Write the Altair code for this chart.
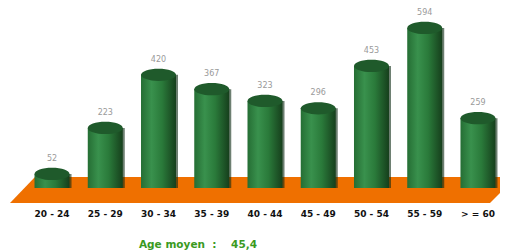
import altair as alt
import pandas as pd

categories = ["20 - 24", "25 - 29", "30 - 34", "35 - 39", "40 - 44",
              "45 - 49", "50 - 54", "55 - 59", "> = 60"]
values = [52, 223, 420, 367, 323, 296, 453, 594, 259]
mean_label = "Age moyen\u00a0\u00a0:\u00a0\u00a0\u00a0\u00a045,4"

df = pd.DataFrame({"cat": categories, "val": values})

W, H = 492, 195
BASE = 185  # pixel bottom of cylinders

x = alt.X("cat:N", sort=categories,
          scale=alt.Scale(range=[17.4, 496.6], paddingInner=0, paddingOuter=0),
          axis=alt.Axis(title=mean_label, labelAngle=0, domain=False, ticks=False,
                        tickSize=0, labelPadding=5, labelFont="DejaVu Sans",
                        labelFontWeight="bold", labelFontSize=9, labelColor="#111",
                        titleFont="DejaVu Sans", titleFontSize=10.5, titleFontWeight="bold",
                        titleColor="#3a9a1e", titleX=189.5, titleY=40,
                        titleBaseline="middle", titleAlign="center", grid=False))
y_scale = alt.Scale(domain=[-59.4, 664.5], nice=False, zero=False)
y = alt.Y("val:Q", scale=y_scale, axis=None)

base = alt.Chart(df)

floor = alt.Chart(pd.DataFrame({"k": [0]})).mark_point(
    shape="M-0.976,0.052 L-0.876,-0.052 L0.984,-0.052 L0.984,0.012 L0.944,0.052 Z",
    filled=True, opacity=1, color="#ef7000", size=250000, strokeWidth=0
).encode(x=alt.value(246), y=alt.value(181))

grad = alt.Gradient(
    gradient="linear", x1=0, x2=1, y1=0, y2=0,
    stops=[alt.GradientStop(color="#256e34", offset=0),
           alt.GradientStop(color="#39914d", offset=0.3),
           alt.GradientStop(color="#2a7a3a", offset=0.6),
           alt.GradientStop(color="#163f1c", offset=1)])

shadow = base.mark_bar(width=35, color="#0c2a12", opacity=0.6, xOffset=2).encode(
    x=x, y=y, y2=alt.value(BASE + 2))

body = base.mark_bar(width=35, color=grad).encode(
    x=x, y=y, y2=alt.value(BASE))

top = base.mark_point(
    shape="M-1,0 A1,0.35 0 1,1 1,0 A1,0.35 0 1,1 -1,0 Z",
    filled=True, opacity=1, color="#1f5a2b", size=1225, strokeWidth=0
).encode(x=x, y=y)

labels = base.mark_text(dy=-15, font="DejaVu Sans", fontSize=8, color="#9a9a9a").encode(
    x=x, y=y, text=alt.Text("val:Q"))

chart = alt.layer(floor, shadow, body, top, labels).properties(
    width=W, height=H, padding=0
).configure_view(stroke=None)

chart.save("out.html", embed_options={"renderer": "svg", "actions": False})
